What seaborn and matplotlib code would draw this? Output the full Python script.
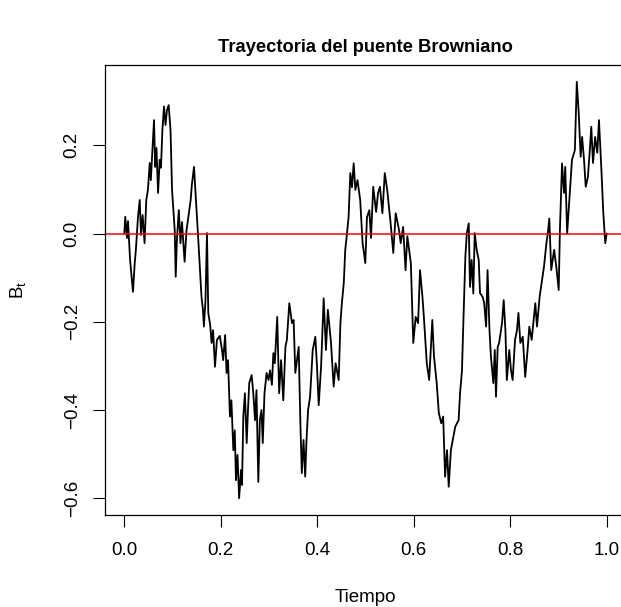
import matplotlib
matplotlib.use("Agg")
import matplotlib.pyplot as plt
import seaborn as sns
import pandas as pd

# Brownian bridge trajectory
tiempo = [0.0, 0.002, 0.0056, 0.0077, 0.012, 0.018, 0.0216, 0.024, 0.0284, 0.032,
          0.0346, 0.038, 0.042, 0.0456, 0.049, 0.0527, 0.055, 0.0595, 0.0616, 0.064,
          0.0667, 0.070, 0.0734, 0.076, 0.079, 0.0823, 0.0854, 0.0885, 0.092, 0.0958,
          0.099, 0.1045, 0.1066, 0.109, 0.113, 0.1165, 0.1196, 0.125, 0.129, 0.132,
          0.1376, 0.140, 0.1445, 0.1486, 0.153, 0.157, 0.160, 0.163, 0.165, 0.1683,
          0.1714, 0.1741, 0.178, 0.181, 0.184, 0.188, 0.192, 0.198, 0.2025, 0.205,
          0.209, 0.212, 0.215, 0.219, 0.222, 0.226, 0.229, 0.2315, 0.2347, 0.238,
          0.242, 0.244, 0.2467, 0.250, 0.2537, 0.2564, 0.259, 0.264, 0.2674, 0.271,
          0.274, 0.2778, 0.281, 0.2844, 0.287, 0.2906, 0.295, 0.299, 0.302, 0.306,
          0.309, 0.312, 0.317, 0.321, 0.325, 0.3296, 0.334, 0.337, 0.342, 0.3476,
          0.351, 0.3545, 0.3615, 0.365, 0.368, 0.3715, 0.375, 0.3777, 0.381, 0.385,
          0.3906, 0.396, 0.3995, 0.403, 0.408, 0.4133, 0.418, 0.422, 0.4285, 0.434,
          0.438, 0.4444, 0.448, 0.451, 0.455, 0.458, 0.4617, 0.465, 0.4685, 0.472,
          0.4755, 0.479, 0.4834, 0.489, 0.494, 0.4996, 0.503, 0.508, 0.5114, 0.516,
          0.522, 0.526, 0.530, 0.535, 0.540, 0.545, 0.552, 0.5576, 0.5626, 0.5695,
          0.573, 0.578, 0.583, 0.5867, 0.594, 0.599, 0.604, 0.609, 0.613, 0.618,
          0.621, 0.627, 0.632, 0.6385, 0.642, 0.6476, 0.652, 0.657, 0.661, 0.665,
          0.669, 0.6725, 0.677, 0.682, 0.686, 0.693, 0.696, 0.700, 0.703, 0.707,
          0.710, 0.714, 0.7166, 0.720, 0.7235, 0.7264, 0.7305, 0.7347, 0.7374, 0.743,
          0.746, 0.750, 0.753, 0.757, 0.760, 0.765, 0.768, 0.7705, 0.774, 0.777,
          0.783, 0.7865, 0.790, 0.793, 0.798, 0.8016, 0.805, 0.810, 0.814, 0.817,
          0.821, 0.826, 0.831, 0.836, 0.8396, 0.8445, 0.848, 0.852, 0.8555, 0.861,
          0.866, 0.870, 0.875, 0.878, 0.881, 0.885, 0.891, 0.8955, 0.9005, 0.903,
          0.9074, 0.9115, 0.914, 0.918, 0.923, 0.928, 0.934, 0.938, 0.942, 0.946,
          0.949, 0.953, 0.9565, 0.961, 0.965, 0.968, 0.9716, 0.976, 0.9805, 0.984,
          0.989, 0.993, 0.997, 1.0]
bt = [0.0, 0.038, -0.010, 0.028, -0.060, -0.132, -0.067, -0.037, 0.038, 0.076,
      -0.003, 0.042, -0.022, 0.076, 0.099, 0.160, 0.121, 0.212, 0.257, 0.151,
      0.194, 0.092, 0.167, 0.149, 0.235, 0.288, 0.246, 0.280, 0.291, 0.235,
      0.099, 0.008, -0.098, -0.015, 0.053, -0.022, 0.026, -0.064, 0.008, 0.031,
      0.076, 0.110, 0.151, 0.076, -0.007, -0.083, -0.143, -0.173, -0.211, -0.151,
      0.001, -0.180, -0.207, -0.248, -0.219, -0.302, -0.241, -0.232, -0.264, -0.287,
      -0.230, -0.316, -0.287, -0.415, -0.378, -0.491, -0.446, -0.559, -0.502, -0.600,
      -0.536, -0.570, -0.415, -0.362, -0.475, -0.400, -0.339, -0.321, -0.362, -0.423,
      -0.355, -0.563, -0.423, -0.400, -0.475, -0.362, -0.316, -0.332, -0.310, -0.343,
      -0.271, -0.294, -0.189, -0.362, -0.287, -0.378, -0.257, -0.241, -0.158, -0.203,
      -0.196, -0.316, -0.257, -0.430, -0.543, -0.468, -0.551, -0.468, -0.400, -0.371,
      -0.264, -0.234, -0.302, -0.389, -0.300, -0.147, -0.264, -0.173, -0.248, -0.347,
      -0.294, -0.332, -0.203, -0.158, -0.112, -0.037, 0.001, 0.038, 0.137, 0.105,
      0.159, 0.099, 0.121, 0.076, -0.022, -0.067, 0.037, 0.053, -0.010, 0.106,
      0.049, 0.092, 0.106, 0.046, 0.137, 0.099, 0.024, -0.044, 0.046, 0.008,
      -0.022, 0.015, -0.083, -0.006, -0.067, -0.248, -0.189, -0.203, -0.083, -0.143,
      -0.189, -0.294, -0.332, -0.196, -0.279, -0.339, -0.407, -0.430, -0.415, -0.551,
      -0.491, -0.574, -0.491, -0.461, -0.438, -0.423, -0.362, -0.310, -0.196, -0.053,
      0.001, 0.023, -0.121, -0.060, -0.136, 0.001, -0.037, -0.060, -0.135, -0.144,
      -0.158, -0.211, -0.083, -0.219, -0.279, -0.339, -0.264, -0.370, -0.257, -0.248,
      -0.203, -0.151, -0.219, -0.332, -0.264, -0.310, -0.332, -0.241, -0.219, -0.180,
      -0.248, -0.234, -0.325, -0.264, -0.211, -0.241, -0.203, -0.158, -0.211, -0.143,
      -0.105, -0.075, -0.022, 0.001, 0.034, -0.083, -0.037, -0.075, -0.128, 0.008,
      0.159, 0.092, 0.151, 0.000, 0.083, 0.167, 0.189, 0.344, 0.273, 0.174,
      0.219, 0.167, 0.106, 0.128, 0.189, 0.242, 0.160, 0.219, 0.183, 0.257,
      0.144, 0.046, -0.022, 0.0]

x_ticks = [0.0, 0.2, 0.4, 0.6, 0.8, 1.0]
y_ticks = [-0.6, -0.4, -0.2, 0.0, 0.2]

sns.set_style("white")
plt.rcParams['font.family'] = ['Liberation Sans', 'DejaVu Sans']
plt.rcParams['mathtext.fontset'] = 'custom'
plt.rcParams['mathtext.rm'] = 'Liberation Sans'
plt.rcParams['mathtext.it'] = 'Liberation Sans:italic'
plt.rcParams['text.color'] = 'black'
plt.rcParams['xtick.color'] = 'black'
plt.rcParams['ytick.color'] = 'black'
plt.rcParams['axes.labelcolor'] = 'black'

W, H = 621, 607
fig = plt.figure(figsize=(W / 100, H / 100), dpi=100)
ax = fig.add_axes([105 / W, 1 - 515 / H, 521 / W, 450 / H])

df = pd.DataFrame({"Tiempo": tiempo, "Bt": bt})
sns.lineplot(data=df, x="Tiempo", y="Bt", ax=ax, color="black",
             linewidth=1.3, estimator=None, sort=False)
ax.axhline(0, color="#ff0000", linewidth=1.1)

ax.set_xlim(-0.04, 1.04)
ax.set_ylim(-0.638, 0.382)
ax.set_xticks(x_ticks)
ax.set_yticks(y_ticks)
ax.set_xticklabels([f"{v:.1f}" for v in x_ticks])
ax.set_yticklabels([f"{v:.1f}".replace("-", "\u2212") for v in y_ticks],
                   rotation=90, va="center")
ax.tick_params(axis="both", which="major", direction="out", length=8.5,
               width=0.8, color="black", labelsize=13.5, pad=9,
               bottom=True, left=True)
ax.tick_params(axis="x", pad=11)
for s in ax.spines.values():
    s.set_visible(True)
    s.set_color("black")
    s.set_linewidth(0.9)
ax.set_xlabel("")
ax.set_ylabel("")

fig.text(365 / W, 1 - 47 / H, "Trayectoria del puente Browniano",
         ha="center", va="center", fontsize=13.2, fontweight="bold")
fig.text(365 / W, 1 - 597 / H, "Tiempo", ha="center", va="center", fontsize=13.5)
fig.text(18 / W, 1 - 290 / H, r"$\mathregular{B_t}$", ha="center", va="center",
         rotation=90, fontsize=13.5)

fig.savefig("out.png", dpi=100)
